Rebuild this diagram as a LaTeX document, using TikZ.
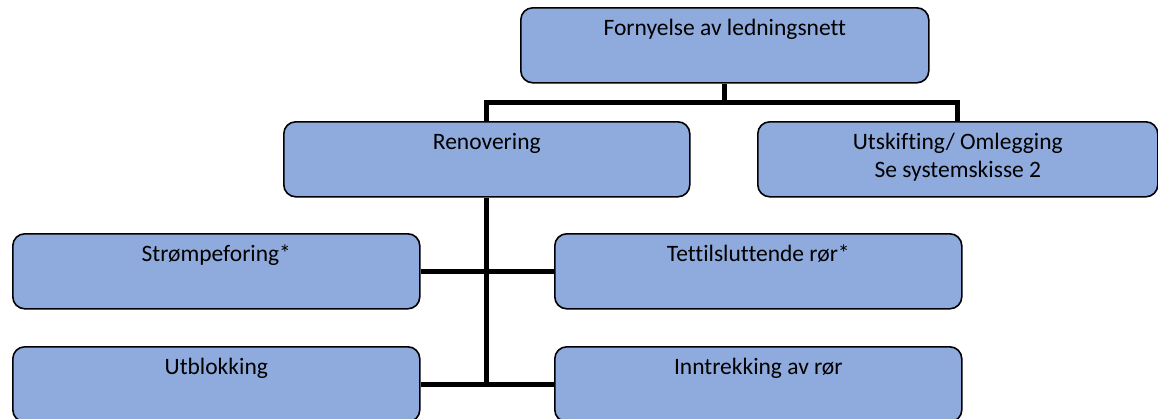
\documentclass[tikz,border=0pt]{standalone}
\usepackage{fontspec}
\setmainfont[Ligatures=NoCommon]{Carlito}
\usepackage[svgnames]{xcolor}
\usepackage{tikz}
\definecolor{boxblue}{RGB}{143,170,220}

\tikzset{
  box/.style={
    draw,
    fill=boxblue,
    line width=1.6pt,
    rounded corners=12pt,
    anchor=north west,
    inner sep=0pt,
    minimum height=75pt,
    text height=28pt,
    text depth=47pt,
    font=\fontsize{23.5}{28}\selectfont,
  },
  link/.style={
    line width=5pt,
  },
}

\begin{document}
\begin{tikzpicture}[x=1pt,y=-1pt]
\useasboundingbox (0,0) rectangle (1158,418);

\node[box,minimum width=408pt] (fornyelse) at (520,7) {Fornyelse av ledningsnett};
\node[box,minimum width=406pt] (renovering) at (283,121) {Renovering};
\node[box,minimum width=400pt] (utskifting) at (757,121)
  {\begin{tabular}[t]{@{}c@{}}Utskifting/ Omlegging\\Se systemskisse 2\end{tabular}};

\foreach \name/\x/\y/\txt in {
  stromp/12/233/{Strømpeforing*},
  tettil/554/233/{Tettilsluttende rør*},
  utblokk/12/346/{Utblokking},
  inntrekk/554/346/{Inntrekking av rør}}
  \node[box,minimum width=407pt] (\name) at (\x,\y) {\txt};

\coordinate (bus) at (0,102);
\draw[link] (fornyelse.south) -- (fornyelse.south |- bus);
\draw[link] (renovering.north) -- (renovering.north |- bus)
  -- (utskifting.north |- bus) -- (utskifting.north);
\draw[link] (renovering.south) -- (renovering.south |- utblokk.east);
\foreach \a/\b in {stromp/tettil,utblokk/inntrekk}
  \draw[link] (\a.east) -- (\b.west);
\end{tikzpicture}
\end{document}
